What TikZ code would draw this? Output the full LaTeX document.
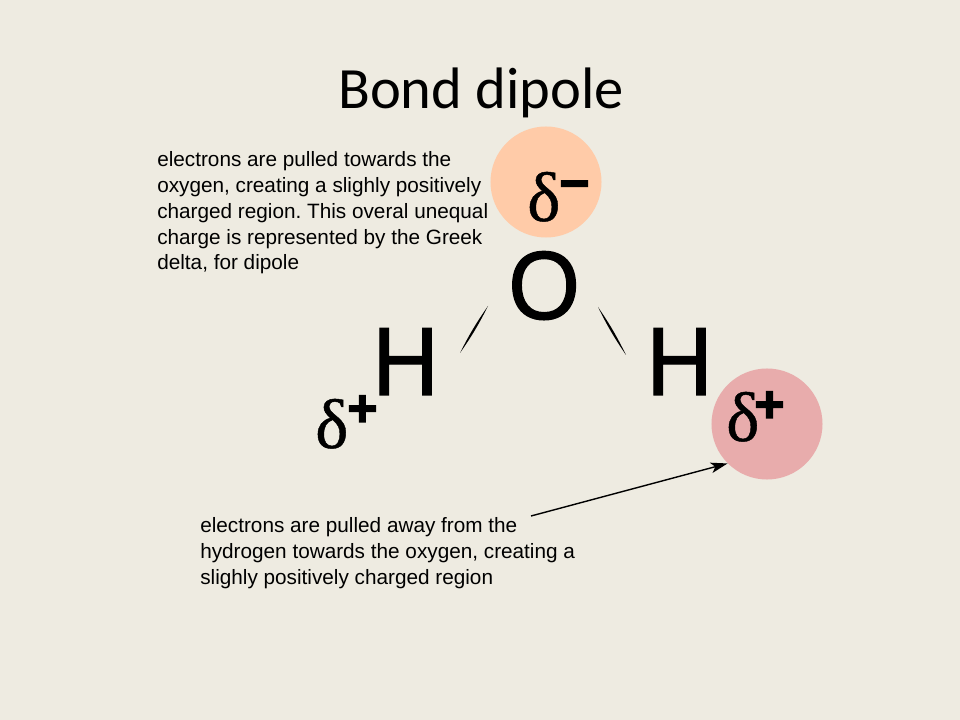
\documentclass[tikz,border=0pt]{standalone}
\usepackage{fontspec}
\usepackage{xcolor}
\setmainfont{Liberation Sans}
\newfontfamily\titlefont{Carlito}
\newfontfamily\greekfont[FakeBold=0.6]{Liberation Serif}
\newfontfamily\atomfont[FakeBold=1.2, FakeStretch=0.95]{Liberation Sans}
\newfontfamily\signfont[FakeBold=2.5]{Liberation Sans Bold}
\usetikzlibrary{arrows.meta}
\definecolor{slidebg}{HTML}{EEEBE1}
\definecolor{peach}{HTML}{FFCBA8}
\definecolor{rose}{HTML}{E8ACAC}
\tikzset{
    tnode/.style = {inner sep=0pt, anchor=base west, text=black},
    title_node/.style = {tnode, font=\titlefont\fontsize{41.6}{50}\selectfont},
    atom_node/.style = {tnode, font=\atomfont\fontsize{69}{80}\selectfont},
    delta_node/.style = {tnode, font=\greekfont\fontsize{50}{60}\selectfont},
    sign_node/.style = {tnode, font=\signfont\fontsize{37}{44}\selectfont},
    note_node/.style = {tnode, align=left, font=\frenchspacing\fontsize{14.75}{18.4}\selectfont},
    charge_circle/.style = {circle, inner sep=0pt, minimum size=2.775cm},
    bond/.style = {fill=black}
}

\begin{document}
\begin{tikzpicture}
            [x=0.025cm, y=-0.025cm, >={Stealth[length=12pt, width=7.5pt, inset=3pt]}]

            \useasboundingbox (0,0) rectangle (960,720);
            \fill [slidebg] (0,0) rectangle (960,720);

            \node [charge_circle, fill=peach] (neg) at (546,182) {};
            \node [charge_circle, fill=rose] (pos) at (767,424) {};

            \node [title_node] (title) at (338,109) {Bond dipole};

            \node [atom_node] (oxy) at (508,319) {O};
            \node [atom_node] (hleft) at (372,395) {H};
            \node [atom_node] (hright) at (646,395) {H};

            \node [delta_node] (dneg) at (527,221) {δ};
            \node [sign_node] (mneg) at (559,201) {−};
            \node [delta_node] (dleft) at (315,448) {δ};
            \node [sign_node] (pleft) at (347,426) {+};
            \node [delta_node] (dright) at (726,441) {δ};
            \node [sign_node] (pright) at (754,422) {+};

            \node [note_node] (note_top) at (157,270) {electrons are pulled towards the\\
                oxygen, creating a slighly positively\\
                charged region. This overal unequal\\
                charge is represented by the Greek\\
                delta, for dipole};
            \node [note_node] (note_low) at (200,584) {electrons are pulled away from the\\
                hydrogen towards the oxygen, creating a\\
                slighly positively charged region};

            % bonds
            \coordinate (bl_top) at (488,306);
            \coordinate (bl_low) at (460,353);
            \coordinate (br_top) at (598,307);
            \coordinate (br_low) at (626,355);
            \fill [bond] (bl_top) to[bend left=4] (bl_low) to[bend left=4] (bl_top);
            \fill [bond] (br_top) to[bend left=4] (br_low) to[bend left=4] (br_top);

            % arrow to the hydrogen charge
            \coordinate (arrow_start) at (531,516);
            \draw [->, line width=1pt] (arrow_start) -- (pos.225);
\end{tikzpicture}
\end{document}
